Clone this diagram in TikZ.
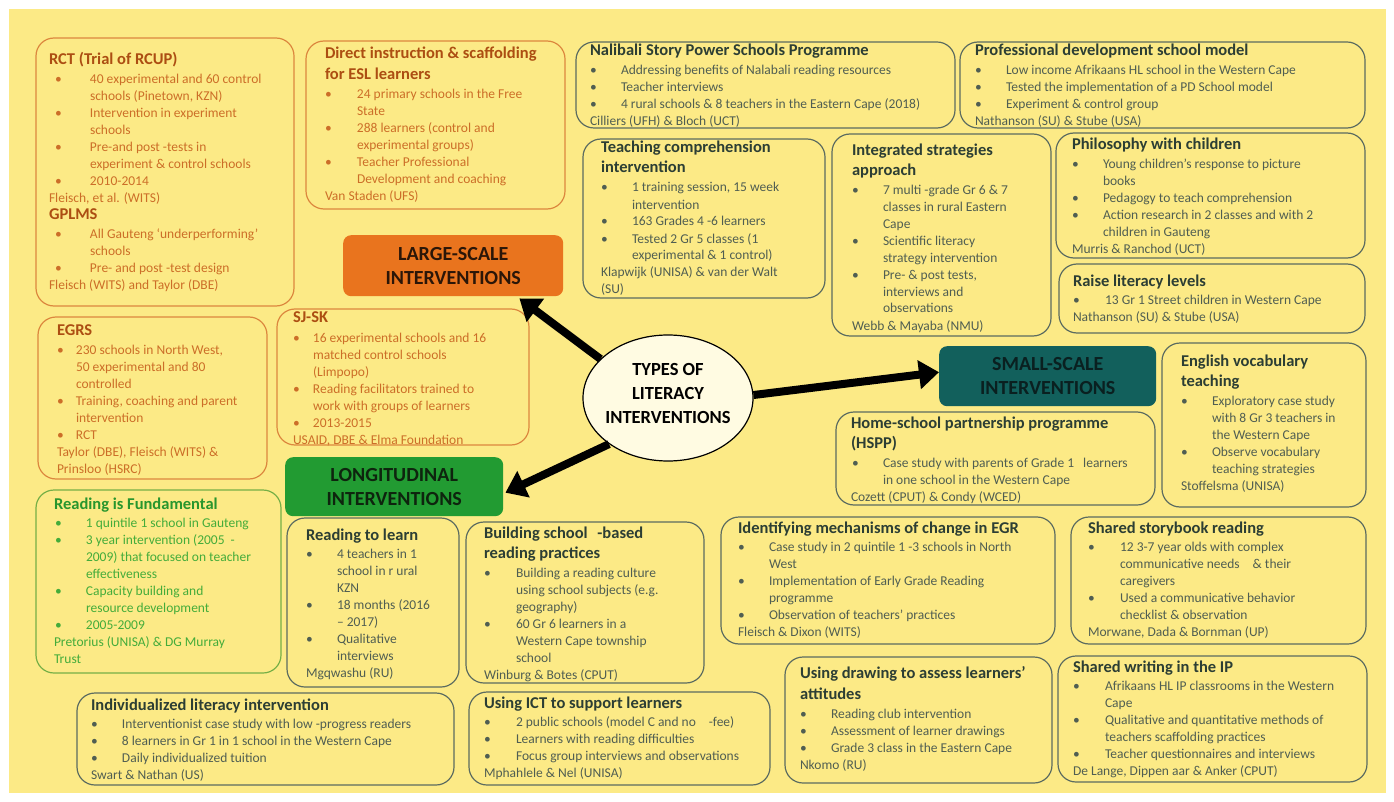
\documentclass[tikz,border=0pt]{standalone}
\usepackage{fontspec}
\setmainfont{Carlito}
\usetikzlibrary{arrows.meta,shapes.geometric}
\definecolor{bgy}{RGB}{252,234,134}
\definecolor{oline}{RGB}{220,135,62}
\definecolor{otitle}{RGB}{172,78,18}
\definecolor{obody}{RGB}{204,110,40}
\definecolor{gline}{RGB}{118,175,70}
\definecolor{gtitle}{RGB}{40,150,45}
\definecolor{gbody}{RGB}{68,172,58}
\definecolor{dline}{RGB}{92,108,96}
\definecolor{dtitle}{RGB}{44,62,52}
\definecolor{dbody}{RGB}{80,94,82}
\definecolor{lgfill}{RGB}{233,116,30}
\definecolor{lgtext}{RGB}{43,22,8}
\definecolor{ltfill}{RGB}{34,155,50}
\definecolor{lttext}{RGB}{14,36,14}
\definecolor{smfill}{RGB}{18,96,92}
\definecolor{smtext}{RGB}{10,32,32}
\definecolor{ellfill}{RGB}{255,251,226}
\colorlet{ttlc}{black}
\newlength\bulx \newlength\bultx
\setlength\bulx{0pt}\setlength\bultx{31pt}
\newcommand\bulit[1]{\makebox[\bultx][l]{\hspace*{\bulx}•}#1}
\newcommand\contl[1]{\hspace*{\bultx}#1}
\newcommand\ttl[1]{\rule{0pt}{14pt}{\color{ttlc}\fontsize{16.5}{20}\selectfont\bfseries #1}}
\newcommand\ttlb[1]{{\color{ttlc}\fontsize{16.5}{20}\selectfont\bfseries #1}}
\begin{document}
\begin{tikzpicture}[x=1pt,y=-1pt,
 frm/.style={draw, line width=1.2pt, rounded corners=18pt, anchor=north west, inner sep=0pt, outer sep=0pt},
 ofrm/.style={frm, draw=oline},
 gfrm/.style={frm, draw=gline},
 dfrm/.style={frm, draw=dline},
 txt/.style={anchor=north west, inner sep=0pt, outer sep=0pt, align=left, font=\fontsize{13.5}{17}\selectfont},
 otxt/.style={txt, text=obody, execute at begin node={\colorlet{ttlc}{otitle}}},
 gtxt/.style={txt, text=gbody, execute at begin node={\colorlet{ttlc}{gtitle}}},
 dtxt/.style={txt, text=dbody, execute at begin node={\colorlet{ttlc}{dtitle}}},
 ind/.style 2 args={execute at begin node={\setlength\bulx{#1}\setlength\bultx{#2}}},
 cat/.style={anchor=north west, rounded corners=8pt, inner sep=0pt, align=center, font=\fontsize{20}{24}\selectfont\bfseries},
 bigarrow/.style={line width=8pt, black, -{Triangle[length=20pt,width=28pt]}}
]
\useasboundingbox (0,0) rectangle (1394,802);
\fill[white] (0,0) rectangle (1394,802);
\fill[bgy] (9,9) rectangle (1386,793);

% ---------- frames ----------
\node[ofrm, minimum width=258pt, minimum height=268pt] (rct) at (36,38) {};
\node[ofrm, minimum width=259pt, minimum height=168pt] (dir) at (306,41) {};
\node[ofrm, minimum width=229pt, minimum height=162pt] (egrs) at (38,317) {};
\node[ofrm, minimum width=252pt, minimum height=136pt] (sjsk) at (277,309) {};
\node[gfrm, minimum width=245pt, minimum height=183pt] (rif) at (36,490) {};
\node[dfrm, minimum width=379pt, minimum height=86pt] (nal) at (576,42) {};
\node[dfrm, minimum width=405pt, minimum height=86pt] (pds) at (960,42) {};
\node[dfrm, minimum width=242pt, minimum height=159pt] (tci) at (583,139) {};
\node[dfrm, minimum width=219pt, minimum height=202pt] (isa) at (832,134) {};
\node[dfrm, minimum width=309pt, minimum height=125pt] (pwc) at (1056,133) {};
\node[dfrm, minimum width=306pt, minimum height=69pt] (rll) at (1059,264) {};
\node[dfrm, minimum width=319pt, minimum height=93pt] (hsp) at (836,412) {};
\node[dfrm, minimum width=204pt, minimum height=164pt] (evt) at (1162,343) {};
\node[dfrm, minimum width=172pt, minimum height=169pt] (rtl) at (287,518) {};
\node[dfrm, minimum width=238pt, minimum height=161pt] (bsr) at (466,522) {};
\node[dfrm, minimum width=334pt, minimum height=127pt] (imc) at (721,517) {};
\node[dfrm, minimum width=295pt, minimum height=127pt] (ssr) at (1071,517) {};
\node[dfrm, minimum width=377pt, minimum height=92pt] (ili) at (77,693) {};
\node[dfrm, minimum width=301pt, minimum height=93pt] (ict) at (469,692) {};
\node[dfrm, minimum width=267pt, minimum height=126pt] (uda) at (785,657) {};
\node[dfrm, minimum width=309pt, minimum height=126pt] (swi) at (1058,656) {};

% ---------- category boxes ----------
\node[cat, fill=lgfill, text=lgtext, minimum width=220pt, minimum height=61pt] (large) at (343,235) {LARGE-SCALE\\INTERVENTIONS};
\node[cat, fill=ltfill, text=lttext, minimum width=218pt, minimum height=59pt] (long) at (285,457) {LONGITUDINAL\\INTERVENTIONS};
\node[cat, fill=smfill, text=smtext, minimum width=217pt, minimum height=60pt] (small) at (939,346) {SMALL-SCALE\\INTERVENTIONS};

% ---------- centre ----------
\node[draw, ellipse, line width=1.2pt, fill=ellfill, minimum width=170pt, minimum height=126pt, inner sep=0pt] (ell) at (668,398) {};
\node[align=center, inner sep=0pt, font=\fontsize{18.5}{24}\selectfont\bfseries] (ellT) at ([yshift=5pt]ell.center) {TYPES OF\\LITERACY\\INTERVENTIONS};

\draw[bigarrow] (ell.150) -- ([xshift=-44pt,yshift=-2pt]large.south east);
\draw[bigarrow] (ell.2) -- ([yshift=4pt]small.west);
\draw[bigarrow] (ell.218) -- ([xshift=2pt,yshift=-6pt]long.east);

% ---------- texts: large-scale (orange) ----------
\node[otxt, ind={6pt}{41pt}] (rctT) at (49,51) {\ttl{RCT (Trial of RCUP)}\\[1.5pt]
\bulit{40 experimental and 60 control}\\
\contl{schools (Pinetown, KZN)}\\
\bulit{Intervention in experiment}\\
\contl{schools}\\
\bulit{Pre-and post -tests in}\\
\contl{experiment \& control schools}\\
\bulit{2010-2014}\\
Fleisch, et al. (WITS)\\
\ttlb{GPLMS}\\[1.5pt]
\bulit{All Gauteng ‘underperforming’}\\
\contl{schools}\\
\bulit{Pre- and post -test design}\\
Fleisch (WITS) and Taylor (DBE)};

\node[otxt, ind={0pt}{32pt}] (dirT) at (325,45) {\ttl{Direct instruction \& scaffolding}\\[4pt]
\ttlb{for ESL learners}\\[1.5pt]
\bulit{24 primary schools in the Free}\\
\contl{State}\\
\bulit{288 learners (control and}\\
\contl{experimental groups)}\\
\bulit{Teacher Professional}\\
\contl{Development and coaching}\\
Van Staden (UFS)};

\node[otxt, ind={0pt}{19pt}] (egrsT) at (57,321) {\ttl{EGRS}\\[2pt]
\bulit{230 schools in North West,}\\
\contl{50 experimental and 80}\\
\contl{controlled}\\
\bulit{Training, coaching and parent}\\
\contl{intervention}\\
\bulit{RCT}\\
Taylor (DBE), Fleisch (WITS) \&\\
Prinsloo (HSRC)};

\node[otxt, ind={0pt}{20pt}] (sjskT) at (293,308) {\ttl{SJ-SK}\\[3pt]
\bulit{16 experimental schools and 16}\\
\contl{matched control schools}\\
\contl{(Limpopo)}\\
\bulit{Reading facilitators trained to}\\
\contl{work with groups of learners}\\
\bulit{2013-2015}\\
USAID, DBE \& Elma Foundation};

% ---------- longitudinal (green) ----------
\node[gtxt, ind={1pt}{32pt}] (rifT) at (54,495) {\ttl{Reading is Fundamental}\\[1.5pt]
\bulit{1 quintile 1 school in Gauteng}\\
\bulit{3 year intervention (2005\hspace{6pt}-}\\
\contl{2009) that focused on teacher}\\
\contl{effectiveness}\\
\bulit{Capacity building and}\\
\contl{resource development}\\
\bulit{2005-2009}\\
Pretorius (UNISA) \& DG Murray\\
Trust};

% ---------- dark boxes ----------
\node[dtxt] (nalT) at (590,42) {\ttl{Nalibali Story Power Schools Programme}\\[1.5pt]
\bulit{Addressing benefits of Nalabali reading resources}\\
\bulit{Teacher interviews}\\
\bulit{4 rural schools \& 8 teachers in the Eastern Cape (2018)}\\
Cilliers (UFH) \& Bloch (UCT)};

\node[dtxt] (pdsT) at (975,42) {\ttl{Professional development school model}\\[1.5pt]
\bulit{Low income Afrikaans HL school in the Western Cape}\\
\bulit{Tested the implementation of a PD School model}\\
\bulit{Experiment \& control group}\\
Nathanson (SU) \& Stube (USA)};

\node[dtxt] (tciT) at (601,139) {\ttl{Teaching comprehension}\\[3pt]
\ttlb{intervention}\\[2pt]
\bulit{1 training session, 15 week}\\
\contl{intervention}\\
\bulit{163 Grades 4 -6 learners}\\
\bulit{Tested 2 Gr 5 classes (1}\\
\contl{experimental \& 1 control)}\\
Klapwijk (UNISA) \& van der Walt\\
(SU)};

\node[dtxt] (isaT) at (852,141) {\ttl{Integrated strategies}\\[3pt]
\ttlb{approach}\\[2pt]
\bulit{7 multi -grade Gr 6 \& 7}\\
\contl{classes in rural Eastern}\\
\contl{Cape}\\
\bulit{Scientific literacy}\\
\contl{strategy intervention}\\
\bulit{Pre- \& post tests,}\\
\contl{interviews and}\\
\contl{observations}\\
Webb \& Mayaba (NMU)};

\node[dtxt] (pwcT) at (1072,136) {\ttl{Philosophy with children}\\[1.5pt]
\bulit{Young children’s response to picture}\\
\contl{books}\\
\bulit{Pedagogy to teach comprehension}\\
\bulit{Action research in 2 classes and with 2}\\
\contl{children in Gauteng}\\
Murris \& Ranchod (UCT)};

\node[dtxt, ind={0pt}{32pt}] (rllT) at (1073,272) {\ttl{Raise literacy levels}\\[1.5pt]
\bulit{13 Gr 1 Street children in Western Cape}\\
Nathanson (SU) \& Stube (USA)};

\node[dtxt, ind={1pt}{32pt}] (hspT) at (851,414) {\ttl{Home-school partnership programme}\\[3pt]
\ttlb{(HSPP)}\\[2pt]
\bulit{Case study with parents of Grade 1\hspace{6pt} learners}\\
\contl{in one school in the Western Cape}\\
Cozett (CPUT) \& Condy (WCED)};

\node[dtxt] (evtT) at (1181,352) {\ttl{English vocabulary}\\[3pt]
\ttlb{teaching}\\[2pt]
\bulit{Exploratory case study}\\
\contl{with 8 Gr 3 teachers in}\\
\contl{the Western Cape}\\
\bulit{Observe vocabulary}\\
\contl{teaching strategies}\\
Stoffelsma (UNISA)};

\node[dtxt] (rtlT) at (306,526) {\ttl{Reading to learn}\\[1.5pt]
\bulit{4 teachers in 1}\\
\contl{school in r ural}\\
\contl{KZN}\\
\bulit{18 months (2016}\\
\contl{– 2017)}\\
\bulit{Qualitative}\\
\contl{interviews}\\
Mgqwashu (RU)};

\node[dtxt, ind={0pt}{32pt}] (bsrT) at (484,524) {\ttl{Building school\hspace{6pt} -based}\\[3pt]
\ttlb{reading practices}\\[2pt]
\bulit{Building a reading culture}\\
\contl{using school subjects (e.g.}\\
\contl{geography)}\\
\bulit{60 Gr 6 learners in a}\\
\contl{Western Cape township}\\
\contl{school}\\
Winburg \& Botes (CPUT)};

\node[dtxt] (imcT) at (738,519) {\ttl{Identifying mechanisms of change in EGR}\\[1.5pt]
\bulit{Case study in 2 quintile 1 -3 schools in North}\\
\contl{West}\\
\bulit{Implementation of Early Grade Reading}\\
\contl{programme}\\
\bulit{Observation of teachers’ practices}\\
Fleisch \& Dixon (WITS)};

\node[dtxt, ind={0pt}{32pt}] (ssrT) at (1088,519) {\ttl{Shared storybook reading}\\[1.5pt]
\bulit{12 3-7 year olds with complex}\\
\contl{communicative needs\hspace{10pt} \& their}\\
\contl{caregivers}\\
\bulit{Used a communicative behavior}\\
\contl{checklist \& observation}\\
Morwane, Dada \& Bornman (UP)};

\node[dtxt] (iliT) at (91,696) {\ttl{Individualized literacy intervention}\\[1.5pt]
\bulit{Interventionist case study with low -progress readers}\\
\bulit{8 learners in Gr 1 in 1 school in the Western Cape}\\
\bulit{Daily individualized tuition}\\
Swart \& Nathan (US)};

\node[dtxt, ind={0pt}{32pt}] (ictT) at (484,694) {\ttl{Using ICT to support learners}\\[1.5pt]
\bulit{2 public schools (model C and no\hspace{10pt} -fee)}\\
\bulit{Learners with reading difficulties}\\
\bulit{Focus group interviews and observations}\\
Mphahlele \& Nel (UNISA)};

\node[dtxt] (udaT) at (800,664) {\ttl{Using drawing to assess learners’}\\[4pt]
\ttlb{attitudes}\\[2pt]
\bulit{Reading club intervention}\\
\bulit{Assessment of learner drawings}\\
\bulit{Grade 3 class in the Eastern Cape}\\
Nkomo (RU)};

\node[dtxt, ind={0pt}{32pt}] (swiT) at (1073,658) {\ttl{Shared writing in the IP}\\[1.5pt]
\bulit{Afrikaans HL IP classrooms in the Western}\\
\contl{Cape}\\
\bulit{Qualitative and quantitative methods of}\\
\contl{teachers scaffolding practices}\\
\bulit{Teacher questionnaires and interviews}\\
De Lange, Dippen aar \& Anker (CPUT)};
\end{tikzpicture}
\end{document}
